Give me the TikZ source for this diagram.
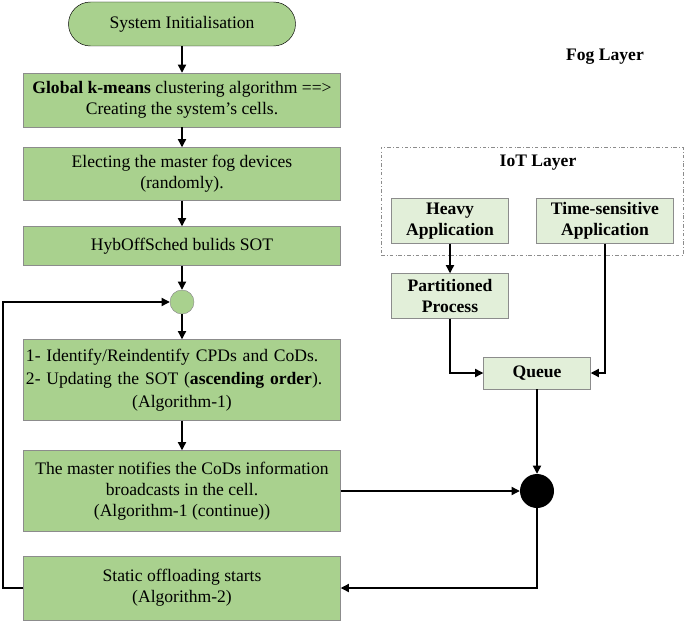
\documentclass[tikz,border=0pt]{standalone}
\usepackage{fontspec}
\setmainfont{Liberation Serif}
\usetikzlibrary{arrows.meta}
\definecolor{stepgreen}{HTML}{A9D18E}
\definecolor{palegreen}{HTML}{E2EFD9}
\definecolor{edgegray}{HTML}{8C8C8C}
\tikzset{
  flowbox/.style={draw=edgegray,fill=stepgreen,minimum width=9.51cm,align=center,inner sep=2pt,font=\fontsize{15}{18}\selectfont},
  terminal/.style={draw=black,fill=stepgreen,rounded corners=0.66cm,minimum width=6.81cm,minimum height=1.32cm,font=\fontsize{15}{18}\selectfont},
  iotbox/.style={draw=edgegray,fill=palegreen,align=center,inner sep=2pt,font=\fontsize{15}{17.5}\selectfont\bfseries},
  junction/.style={circle,draw=edgegray,fill=stepgreen,minimum size=0.72cm,inner sep=0pt},
  merge/.style={circle,fill=black,minimum size=1.02cm,inner sep=0pt},
  flow/.style={-{Triangle[length=7pt,width=7pt]},line width=1.1pt}
}
\begin{document}
\begin{tikzpicture}[x=0.03cm,y=-0.03cm]
        \useasboundingbox (0,0) rectangle (685,625);
        % draw the main flow
        \node[terminal] (init) at (182,24) {System Initialisation};
        \node[flowbox,minimum height=1.62cm] (kmeans) at (182,100) {\textbf{Global k-means} clustering algorithm ==>\\ Creating the system's cells.};
        \node[flowbox,minimum height=1.59cm] (elect) at (182,174) {Electing the master fog devices\\ (randomly).};
        \node[flowbox,minimum height=1.17cm] (sot) at (182,246) {HybOffSched bulids SOT};
        \node[junction] (join) at (182,302) {};
        \node[flowbox,minimum height=2.43cm,text width=9.36cm,align=left,font=\fontsize{15}{19.5}\selectfont] (identify) at (182,380) {1- Identify/Reindentify CPDs and CoDs.\\ 2- Updating the SOT (\textbf{ascending order}).\\ \makebox[\linewidth]{(Algorithm-1)}};
        \node[flowbox,minimum height=2.43cm] (notify) at (182,491) {The master notifies the CoDs information\\ broadcasts in the cell.\\ (Algorithm-1 (continue))};
        \node[flowbox,minimum height=1.92cm] (static) at (182,588) {Static offloading starts\\ (Algorithm-2)};
        % draw the layers
        \node[font=\fontsize{15}{18}\selectfont\bfseries] (fog) at (605,57) {Fog Layer};
        \node[draw=edgegray,dash dot,minimum width=9.06cm,minimum height=3.24cm] (iotframe) at (532,201) {};
        \node[font=\fontsize{15}{18}\selectfont\bfseries] (iot) at (538,163) {IoT Layer};
        \node[iotbox,minimum width=3.51cm,minimum height=1.35cm] (heavy) at (450,221) {Heavy\\ Application};
        \node[iotbox,minimum width=4.11cm,minimum height=1.35cm] (timesens) at (605,221) {Time-sensitive\\ Application};
        \node[iotbox,minimum width=3.51cm,minimum height=1.35cm] (partition) at (450,296) {Partitioned\\ Process};
        \node[iotbox,minimum width=3.21cm,minimum height=0.96cm] (queue) at (537,373) {Queue};
        \node[merge] (merge) at (537,491) {};
        % draw the connectors
        \draw[flow] (init) -- (kmeans);
        \draw[flow] (kmeans) -- (elect);
        \draw[flow] (elect) -- (sot);
        \draw[flow] (sot) -- (join);
        \draw[flow] (join) -- (identify);
        \draw[flow] (identify) -- (notify);
        \coordinate (loopturn) at (3,302);
        \draw[flow] (static.west) -| (loopturn) -- (join);
        \draw[flow] (heavy) -- (partition);
        \draw[flow] (partition) |- (queue);
        \draw[flow] (timesens) |- (queue);
        \draw[flow] (queue) -- (merge);
        \draw[flow] (notify) -- (merge);
        \draw[flow] (merge) |- (static);
    \end{tikzpicture}
\end{document}
